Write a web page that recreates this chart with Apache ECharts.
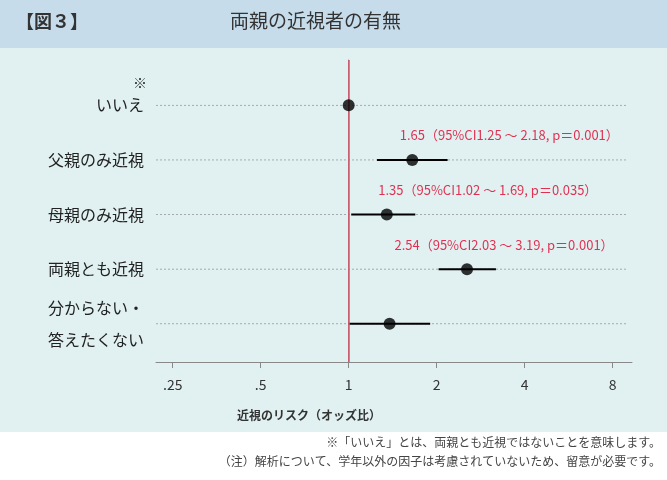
<!DOCTYPE html>
<html><head><meta charset="utf-8">
<script src="https://cdn.jsdelivr.net/npm/echarts@6/dist/echarts.min.js"></script>
<style>html,body{margin:0;padding:0;background:#fff}#c{width:667px;height:480px}</style>
</head><body><div id="c"></div>
<script>
const categories = ['いいえ','父親のみ近視','母親のみ近視','両親とも近視','分からない・\n答えたくない'];
const oddsRatio = [1, 1.65, 1.35, 2.54, 1.38];
const ciLow = [null, 1.25, 1.02, 2.03, 1.00];
const ciHigh = [null, 2.18, 1.69, 3.19, 1.90];
const pValues = [null, '0.001', '0.035', '0.001', null];
const tickValues = [0.25, 0.5, 1, 2, 4, 8];
const tickLabels = ['.25', '.5', '1', '2', '4', '8'];
const labelOffsets = [0, 97, 101, 37, 0];

const L = Math.log2;
const chart = echarts.init(document.getElementById('c'));
const font = '"Noto Sans CJK JP", "Noto Sans", sans-serif';
const xMin = -2.19, xMax = 3.22;

chart.setOption({
  textStyle:{fontFamily:font},
  animation:false,
  graphic:[
    {type:'rect', z:-10, shape:{x:0,y:0,width:667,height:48}, style:{fill:'#c6dcea'}},
    {type:'rect', z:-10, shape:{x:0,y:48,width:667,height:384}, style:{fill:'#e1f1f1'}},
    {type:'text', left:16, top:12, style:{text:'【図３】', fill:'#333', font:'bold 18px '+font}},
    {type:'text', left:230, top:11, style:{text:'両親の近視者の有無', fill:'#333', font:'19px '+font}},
    {type:'text', left:133, top:76, style:{text:'※', fill:'#333', font:'14px '+font}},
    {type:'text', right:6, top:436, style:{text:'※「いいえ」とは、両親とも近視ではないことを意味します。', fill:'#444', font:'12px '+font}},
    {type:'text', right:6, top:455, style:{text:'（注）解析について、学年以外の因子は考慮されていないため、留意が必要です。', fill:'#444', font:'12px '+font}}
  ],
  grid:{left:156, right:35, top:60, bottom:118},
  xAxis:{type:'value', min:xMin, max:xMax,
    name:'近視のリスク（オッズ比）', nameLocation:'middle', nameGap:47,
    nameTextStyle:{fontSize:12, fontWeight:'bold', color:'#333', padding:[0,170,0,0]},
    axisLine:{show:true, onZero:false, lineStyle:{color:'#888'}},
    axisTick:{show:true, length:6, lineStyle:{color:'#888'}, customValues:tickValues.map(L)},
    axisLabel:{color:'#333', fontSize:14, margin:16, customValues:tickValues.map(L),
      formatter:v=>{const i=tickValues.findIndex(t=>Math.abs(L(t)-v)<1e-6);return i>=0?tickLabels[i]:'';}},
    splitLine:{show:false}},
  yAxis:{type:'value', inverse:true, min:-0.83, max:4.70,
    axisLine:{show:true, lineStyle:{color:'#888'}},
    axisTick:{show:false},
    axisLabel:{color:'#222', fontSize:16, margin:12, lineHeight:32, customValues:[0,1,2,3,4],
      formatter:v=>categories[Math.round(v)]||''},
    splitLine:{show:false}},
  series:[
    {type:'custom', silent:true,
      data:categories.map((c,i)=>[i]),
      renderItem:(p,api)=>{
        const i=api.value(0);
        const a=api.coord([xMin,i]), b=api.coord([xMax,i]);
        return {type:'line', shape:{x1:a[0],y1:a[1],x2:b[0]-4,y2:b[1]},
          style:{stroke:'#999', lineWidth:0.8, lineDash:[2,2]}};
      }},
    {type:'custom', silent:true, z:3,
      data:categories.map((c,i)=>ciLow[i]==null?null:[L(ciLow[i]),L(ciHigh[i]),i]).filter(d=>d),
      renderItem:(p,api)=>{
        const a=api.coord([api.value(0),api.value(2)]), b=api.coord([api.value(1),api.value(2)]);
        return {type:'line', shape:{x1:a[0],y1:a[1],x2:b[0],y2:b[1]}, style:{stroke:'#000', lineWidth:2}};
      }},
    {type:'scatter', symbolSize:12, z:5, itemStyle:{color:'#000'},
      data:oddsRatio.map((v,i)=>({value:[L(v),i],
        label:{show:pValues[i]!=null, position:'top', distance:12, offset:[labelOffsets[i],0],
          color:'#e0002a', fontSize:13,
          formatter:()=>`${oddsRatio[i].toFixed(2)}（95%CI${ciLow[i].toFixed(2)} ～ ${ciHigh[i].toFixed(2)}, p＝${pValues[i]}）`}})),
      markLine:{silent:true, symbol:'none', label:{show:false},
        lineStyle:{color:'#e0506a', type:'solid', width:1.5},
        data:[{xAxis:0}]}}
  ]
});
</script></body></html>
